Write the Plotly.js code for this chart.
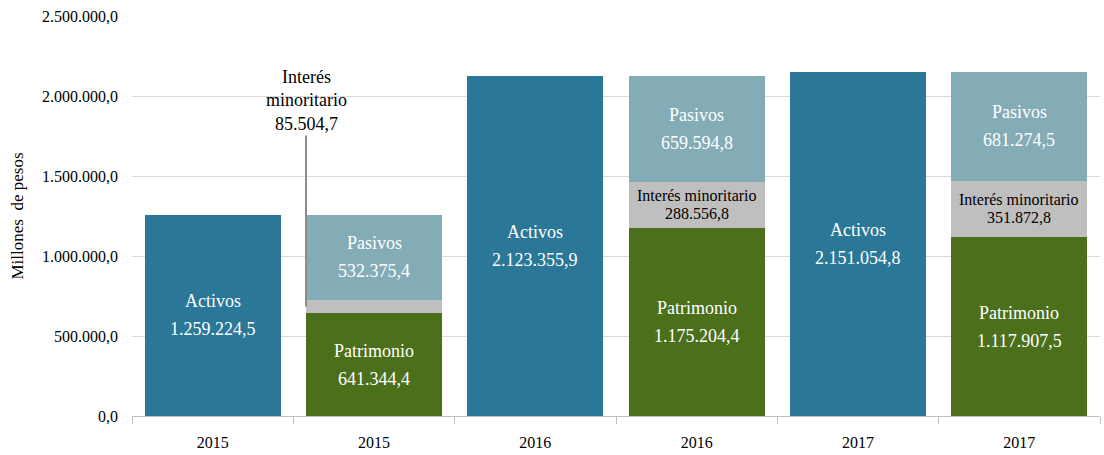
<!DOCTYPE html>
<html>
<head>
<meta charset="utf-8">
<script src="https://cdn.plot.ly/plotly-3.0.1.min.js"></script>
<style>html,body{margin:0;padding:0;background:#fff;}#chart{width:1104px;height:455px;}</style>
</head>
<body>
<div id="chart"></div>
<script>
var categories = ['2015', '2015', '2016', '2016', '2017', '2017'];
var activos    = [1259224.5, null, 2123355.9, null, 2151054.8, null];
var patrimonio = [null, 641344.4, null, 1175204.4, null, 1117907.5];
var interes    = [null, 85504.7, null, 288556.8, null, 351872.8];
var pasivos    = [null, 532375.4, null, 659594.8, null, 681274.5];
var yTicks     = [0, 500000, 1000000, 1500000, 2000000, 2500000];

var FONT = 'Liberation Serif';
var C_ACT = '#2a7798', C_PAS = '#84acb7', C_INT = '#bfbfbf', C_PAT = '#4b6f1b';

function fmt(v) {
  var s = v.toFixed(1).split('.');
  var ip = s[0].replace(/\B(?=(\d{3})+(?!\d))/g, '.');
  return ip + ',' + s[1];
}

var xs = categories.map(function (_, i) { return i; });
var BAR_W = 0.843;

function barTrace(name, vals, color) {
  return {
    type: 'bar', name: name, x: xs, y: vals, width: BAR_W,
    marker: {color: color, line: {width: 0}},
    hoverinfo: 'skip', showlegend: false
  };
}

var data = [
  barTrace('Activos', activos, C_ACT),
  barTrace('Patrimonio', patrimonio, C_PAT),
  barTrace('Interés minoritario', interes, C_INT),
  barTrace('Pasivos', pasivos, C_PAS)
];

var annotations = [];
function addLabel(i, name, value, center, color, size, gap) {
  annotations.push({x: i, y: center, xref: 'x', yref: 'y', text: name, showarrow: false,
    yshift: gap, font: {family: FONT, size: size, color: color}});
  annotations.push({x: i, y: center, xref: 'x', yref: 'y', text: fmt(value), showarrow: false,
    yshift: -gap, font: {family: FONT, size: size, color: color}});
}

for (var i = 0; i < categories.length; i++) {
  if (activos[i] != null) {
    addLabel(i, 'Activos', activos[i], activos[i] / 2, '#ffffff', 18, 14);
  } else {
    var b = 0;
    addLabel(i, 'Patrimonio', patrimonio[i], b + patrimonio[i] / 2, '#ffffff', 18, 14);
    b += patrimonio[i];
    if (interes[i] > 150000) {
      addLabel(i, 'Interés minoritario', interes[i], b + interes[i] / 2, '#000000', 16, 9);
    } else {
      annotations.push({x: i - BAR_W / 2, y: b + interes[i] / 2, xref: 'x', yref: 'y',
        text: 'Interés<br>minoritario<br>' + fmt(interes[i]),
        showarrow: true, arrowhead: 0, arrowwidth: 2, arrowcolor: '#8c8c8c',
        ax: 0, ay: -206, standoff: 0, startstandoff: 0,
        font: {family: FONT, size: 18, color: '#000000'}});
    }
    b += interes[i];
    addLabel(i, 'Pasivos', pasivos[i], b + pasivos[i] / 2, '#ffffff', 18, 14);
  }
}

var layout = {
  width: 1104, height: 455,
  margin: {l: 132, r: 4, t: 16, b: 39, pad: 0},
  paper_bgcolor: '#ffffff', plot_bgcolor: '#ffffff',
  barmode: 'stack',
  separators: ',.',
  showlegend: false,
  font: {family: FONT, size: 16, color: '#000000'},
  xaxis: {
    range: [-0.5, categories.length - 0.5],
    tickmode: 'array', tickvals: xs, ticktext: categories,
    ticks: '', showgrid: false, zeroline: false,
    showline: true, linecolor: '#bfbfbf', linewidth: 1,
    ticklabelstandoff: 12,
    tickfont: {family: FONT, size: 16, color: '#000000'},
    minor: {tickmode: 'linear', tick0: 0.5, dtick: 1, ticks: 'outside', ticklen: 7,
            tickcolor: '#bfbfbf', tickwidth: 1, showgrid: false}
  },
  yaxis: {
    range: [0, 2500000], tickmode: 'array', tickvals: yTicks,
    tickformat: ',.1f', ticks: '', showline: false, zeroline: false,
    showgrid: true, gridcolor: '#d9d9d9', gridwidth: 1,
    ticklabelstandoff: 13,
    tickfont: {family: FONT, size: 16, color: '#000000'},
    title: {text: 'Millones  de pesos', standoff: 14, font: {family: FONT, size: 17, color: '#000000'}}
  },
  annotations: annotations
};

Plotly.newPlot('chart', data, layout, {staticPlot: true, displayModeBar: false});
</script>
</body>
</html>
